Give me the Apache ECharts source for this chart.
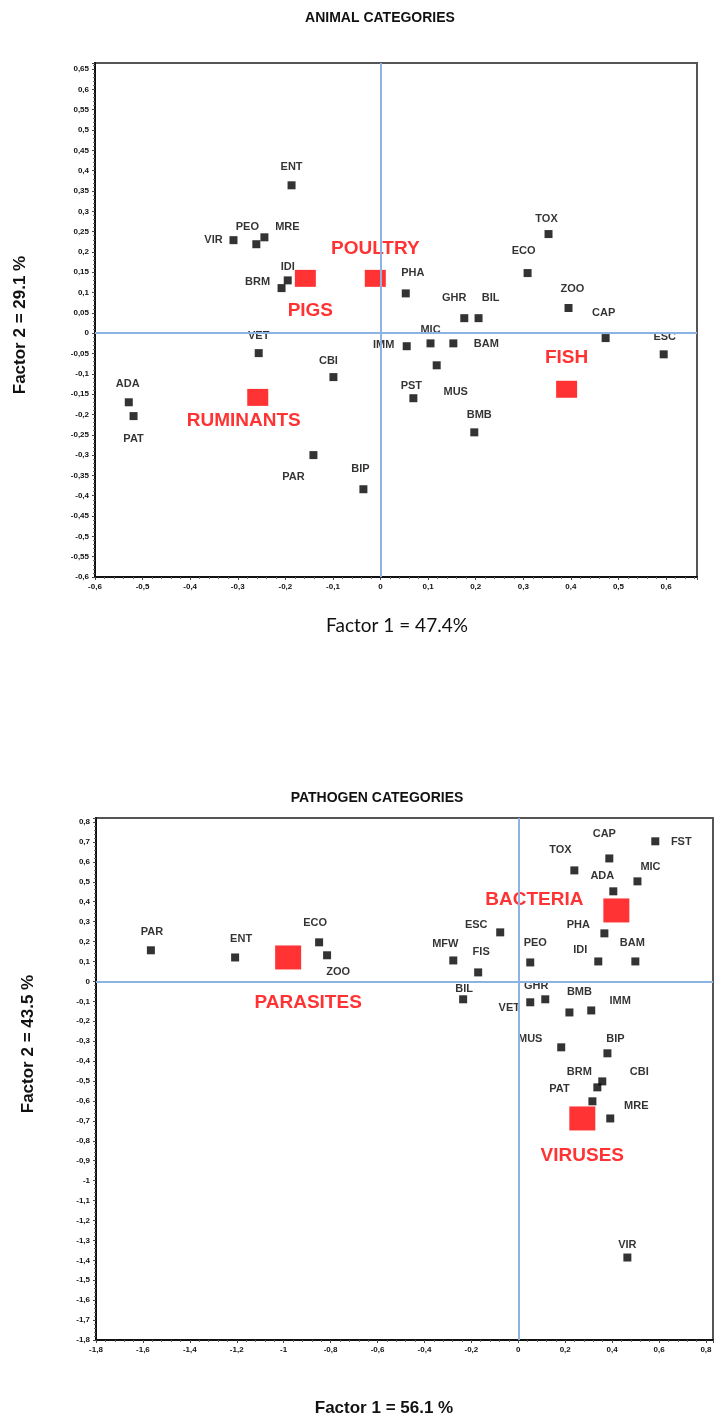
<!DOCTYPE html>
<html>
<head>
<meta charset="utf-8">
<script src="https://cdn.jsdelivr.net/npm/echarts@6/dist/echarts.min.js"></script>
<style>
  html, body { margin: 0; padding: 0; background: #fff; }
  #chart { width: 717px; height: 1427px; }
</style>
</head>
<body>
<div id="chart"></div>
<script>
// ---- Animal categories: correspondence-analysis coordinates ----
const animalCodes = ['ENT','VIR','PEO','MRE','IDI','BRM','PHA','TOX','ECO','ZOO','CAP','ESC','GHR','BIL','MIC','BAM','IMM','MUS','PST','BMB','CBI','ADA','PAT','PAR','BIP','VET'];
const animalF1 = [-0.187,-0.309,-0.261,-0.244,-0.195,-0.208,0.053,0.353,0.309,0.395,0.473,0.595,0.176,0.206,0.105,0.153,0.055,0.118,0.069,0.197,-0.099,-0.529,-0.519,-0.141,-0.036,-0.256];
const animalF2 = [0.364,0.229,0.219,0.236,0.130,0.111,0.098,0.244,0.148,0.062,-0.012,-0.052,0.037,0.037,-0.025,-0.025,-0.032,-0.079,-0.160,-0.244,-0.108,-0.170,-0.204,-0.300,-0.384,-0.049];
const animalGroups = ['PIGS','POULTRY','FISH','RUMINANTS'];
const animalGroupF1 = [-0.158,-0.011,0.391,-0.258];
const animalGroupF2 = [0.135,0.135,-0.138,-0.158];

// ---- Pathogen categories ----
const pathogenCodes = ['PAR','ENT','ECO','ZOO','CAP','FST','TOX','MIC','ADA','PHA','IDI','BAM','PEO','ESC','MFW','FIS','BIL','GHR','VET','BMB','IMM','MUS','BIP','CBI','BRM','PAT','MRE','VIR'];
const pathogenF1 = [-1.566,-1.207,-0.849,-0.815,0.388,0.584,0.239,0.508,0.405,0.367,0.341,0.499,0.051,-0.077,-0.277,-0.171,-0.235,0.115,0.051,0.218,0.311,0.183,0.380,0.358,0.337,0.316,0.392,0.465];
const pathogenF2 = [0.156,0.120,0.196,0.131,0.617,0.703,0.557,0.502,0.452,0.241,0.100,0.100,0.095,0.246,0.105,0.045,-0.090,-0.090,-0.105,-0.156,-0.146,-0.331,-0.361,-0.502,-0.532,-0.602,-0.688,-1.386];
const pathogenGroups = ['PARASITES','BACTERIA','VIRUSES'];
const pathogenGroupF1 = [-0.981,0.418,0.273];
const pathogenGroupF2 = [0.120,0.356,-0.688];

// Label placement (pixel offset of each label from its marker centre)
const animalLabelOffset = {
  ENT:[0,-18], VIR:[-20,0], PEO:[-9,-17], MRE:[23,-10], IDI:[0,-13], BRM:[-24,-6],
  PHA:[7,-20], TOX:[-2,-15], ECO:[-4,-22], ZOO:[4,-19], CAP:[-2,-25], ESC:[1,-17],
  GHR:[-10,-20], BIL:[12,-20], MIC:[0,-13], BAM:[33,1], IMM:[-23,-1], MUS:[19,27],
  PST:[-2,-12], BMB:[5,-17], CBI:[-5,-16], ADA:[-1,-18], PAT:[0,23], PAR:[-20,22],
  BIP:[-3,-20], VET:[0,-17],
  PIGS:[5,32], POULTRY:[0,-30], FISH:[0,-32], RUMINANTS:[-14,23]
};
const pathogenLabelOffset = {
  PAR:[1,-18], ENT:[6,-18], ECO:[-4,-19], ZOO:[11,17], CAP:[-5,-24], FST:[26,1],
  TOX:[-14,-20], MIC:[13,-14], ADA:[-11,-15], PHA:[-26,-8], IDI:[-18,-11], BAM:[-3,-18],
  PEO:[5,-19], ESC:[-24,-7], MFW:[-8,-16], FIS:[3,-20], BIL:[1,-10], GHR:[-9,-13],
  VET:[-21,6], BMB:[10,-20], IMM:[29,-9], MUS:[-31,-8], BIP:[8,-14], CBI:[37,-9],
  BRM:[-18,-15], PAT:[-33,-12], MRE:[26,-12], VIR:[0,-13],
  PARASITES:[20,45], BACTERIA:[-82,-11], VIRUSES:[0,37]
};

const SANS = '"Liberation Sans", Arial, sans-serif';
const SOFT = 'Lato, "Open Sans", sans-serif';

function items(codes, xs, ys, offsets) {
  return codes.map((c, i) => ({ name: c, value: [xs[i], ys[i]], label: { offset: offsets[c] || [0, 0] } }));
}

// Comma decimal tick text; values off the step grid (axis extents) stay blank
function tickFormatter(step) {
  return function (v) {
    const k = v / step;
    if (Math.abs(k - Math.round(k)) > 1e-6) return '';
    const r = Math.round(v * 1000) / 1000;
    return String(r).replace('.', ',');
  };
}

function valueAxis(gridIndex, min, max, interval) {
  return {
    type: 'value', gridIndex: gridIndex, min: min, max: max, interval: interval,
    axisLine: { show: true, onZero: false, lineStyle: { color: '#111', width: 2 } },
    axisTick: { show: true, inside: false, length: 3, lineStyle: { color: '#444', width: 1 } },
    minorTick: { show: true, splitNumber: 5, length: 2, lineStyle: { color: '#666', width: 1 } },
    splitLine: { show: false },
    axisLabel: { fontSize: 8, fontWeight: 'bold', color: '#111', fontFamily: SANS, margin: 6, formatter: tickFormatter(interval) }
  };
}

const zeroLines = {
  silent: true, symbol: 'none', animation: false,
  label: { show: false },
  lineStyle: { color: '#8DB3E2', width: 2, type: 'solid' },
  emphasis: { disabled: true },
  data: [{ xAxis: 0 }, { yAxis: 0 }]
};

const codeLabel = { show: true, position: 'inside', formatter: '{b}', color: '#000', fontSize: 11, fontWeight: 'bold', fontFamily: SANS };
const groupLabel = { show: true, position: 'inside', formatter: '{b}', color: '#FF0000', fontSize: 19, fontWeight: 'bold', fontFamily: SANS };

const chart = echarts.init(document.getElementById('chart'), null, { renderer: 'canvas' });
chart.setOption({
  animation: false,
  backgroundColor: '#fff',
  grid: [
    { left: 95, top: 63, width: 602, height: 514, show: true, borderColor: '#555', borderWidth: 2, backgroundColor: 'transparent' },
    { left: 96, top: 818, width: 617, height: 522, show: true, borderColor: '#555', borderWidth: 2, backgroundColor: 'transparent' }
  ],
  xAxis: [
    valueAxis(0, -0.6, 0.665, 0.1),
    valueAxis(1, -1.8, 0.83, 0.2)
  ],
  yAxis: [
    valueAxis(0, -0.6, 0.665, 0.05),
    valueAxis(1, -1.8, 0.82, 0.1)
  ],
  series: [
    {
      type: 'scatter', xAxisIndex: 0, yAxisIndex: 0, symbol: 'rect', symbolSize: 8,
      itemStyle: { color: '#000' }, label: codeLabel, z: 3,
      data: items(animalCodes, animalF1, animalF2, animalLabelOffset),
      markLine: zeroLines
    },
    {
      type: 'scatter', xAxisIndex: 0, yAxisIndex: 0, symbol: 'rect', symbolSize: [21, 17],
      itemStyle: { color: '#FF0000' }, label: groupLabel, z: 4,
      data: items(animalGroups, animalGroupF1, animalGroupF2, animalLabelOffset)
    },
    {
      type: 'scatter', xAxisIndex: 1, yAxisIndex: 1, symbol: 'rect', symbolSize: 8,
      itemStyle: { color: '#000' }, label: codeLabel, z: 3,
      data: items(pathogenCodes, pathogenF1, pathogenF2, pathogenLabelOffset),
      markLine: zeroLines
    },
    {
      type: 'scatter', xAxisIndex: 1, yAxisIndex: 1, symbol: 'rect', symbolSize: [26, 24],
      itemStyle: { color: '#FF0000' }, label: groupLabel, z: 4,
      data: items(pathogenGroups, pathogenGroupF1, pathogenGroupF2, pathogenLabelOffset)
    }
  ],
  graphic: [
    { type: 'text', x: 380, y: 18, style: { text: 'ANIMAL CATEGORIES', fill: '#111', font: 'bold 14px ' + SANS, textAlign: 'center', textVerticalAlign: 'middle' } },
    { type: 'text', x: 397, y: 626, style: { text: 'Factor 1 = 47.4%', fill: '#111', font: '19px ' + SOFT, textAlign: 'center', textVerticalAlign: 'middle' } },
    { type: 'text', x: 20, y: 325, rotation: Math.PI / 2, style: { text: 'Factor 2 = 29.1 %', fill: '#111', font: 'bold 17px ' + SANS, textAlign: 'center', textVerticalAlign: 'middle' } },
    { type: 'text', x: 377, y: 798, style: { text: 'PATHOGEN CATEGORIES', fill: '#111', font: 'bold 14px ' + SANS, textAlign: 'center', textVerticalAlign: 'middle' } },
    { type: 'text', x: 384, y: 1408, style: { text: 'Factor 1 = 56.1 %', fill: '#111', font: 'bold 17px ' + SANS, textAlign: 'center', textVerticalAlign: 'middle' } },
    { type: 'text', x: 28, y: 1044, rotation: Math.PI / 2, style: { text: 'Factor 2 = 43.5 %', fill: '#111', font: 'bold 17px ' + SANS, textAlign: 'center', textVerticalAlign: 'middle' } }
  ]
});
</script>
</body>
</html>
